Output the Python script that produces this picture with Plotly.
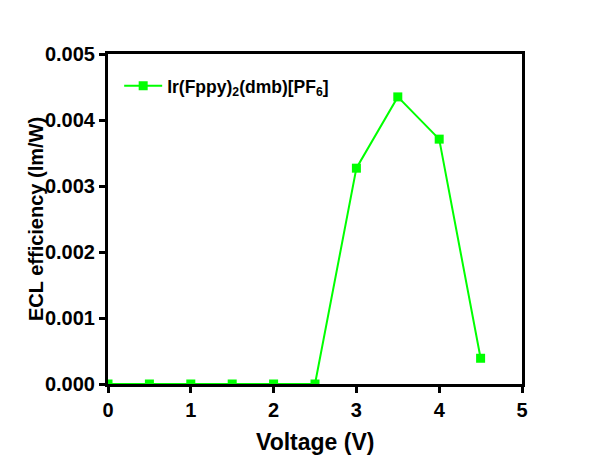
import plotly.graph_objects as go

voltage = [0, 0.5, 1, 1.5, 2, 2.5, 3, 3.5, 4, 4.5]
efficiency = [0, 0, 0, 0, 0, 0, 0.00327, 0.00435, 0.00371, 0.00039]
series_name = "Ir(Fppy)<sub>2</sub>(dmb)[PF<sub>6</sub>]"
x_title = "Voltage (V)"
y_title = "ECL efficiency (lm/W)"
x_ticks = [0, 1, 2, 3, 4, 5]
y_ticks = [0, 0.001, 0.002, 0.003, 0.004, 0.005]

GREEN = "#00FF00"
FONT = "Liberation Sans, Arial, sans-serif"

fig = go.Figure()
fig.add_trace(go.Scatter(
    x=voltage, y=efficiency, mode="lines+markers", name=series_name,
    line=dict(color=GREEN, width=2),
    marker=dict(symbol="square", size=9, color=GREEN),
    cliponaxis=True,
))

axis_common = dict(
    showline=True, linecolor="black", linewidth=3, mirror=True,
    ticks="outside", ticklen=6, tickwidth=3, tickcolor="black",
    showgrid=False, zeroline=False,
    tickfont=dict(family=FONT, size=20, color="black", weight="bold"),
)

fig.update_layout(
    width=609, height=465,
    paper_bgcolor="white", plot_bgcolor="white",
    margin=dict(l=100, r=95, t=46, b=89),
    font=dict(family=FONT, color="black"),
    xaxis=dict(range=[0, 5], tickvals=x_ticks, ticktext=[str(v) for v in x_ticks], **axis_common),
    yaxis=dict(range=[0, 0.005], tickvals=y_ticks, ticktext=[f"{v:.3f}" for v in y_ticks], **axis_common),
    showlegend=True,
    legend=dict(x=0.027, y=0.958, xanchor="left", yanchor="top", itemwidth=38,
                bgcolor="rgba(0,0,0,0)",
                font=dict(family=FONT, size=17.5, color="black", weight="bold")),
    annotations=[
        dict(text=x_title, xref="paper", yref="paper", x=0.5, y=0, xanchor="center", yanchor="middle",
             yshift=-58, showarrow=False, font=dict(family=FONT, size=23, color="black", weight="bold")),
        dict(text=y_title, xref="paper", yref="paper", x=0, y=0.5, xanchor="center", yanchor="middle",
             xshift=-72, textangle=-90, showarrow=False,
             font=dict(family=FONT, size=20, color="black", weight="bold")),
    ],
)

fig.write_html("out.html")
